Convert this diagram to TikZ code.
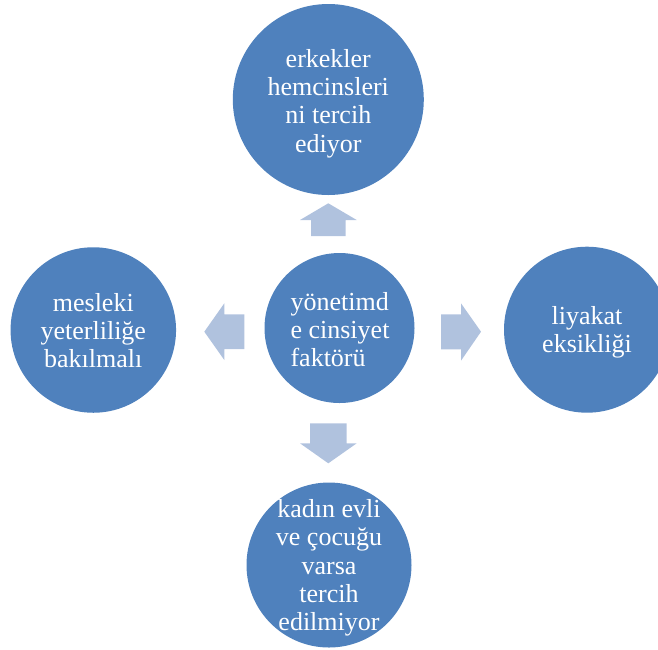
\documentclass[tikz,border=0pt]{standalone}
\usepackage{fontspec}
\setmainfont{Liberation Serif}
\definecolor{circfill}{HTML}{4F81BD}
\definecolor{arrfill}{RGB}{176,194,222}
\begin{document}
\begin{tikzpicture}[x=1pt,y=-1pt,
  bubble/.style={circle,fill=circfill,draw=none,inner sep=0pt},
  txt/.style={text=white,inner sep=0pt,font=\fontsize{26}{28.3}\selectfont},
  blockarrow/.style={fill=arrfill,draw=none}]
\useasboundingbox (0,0) rectangle (658,649);
\clip (0,0) rectangle (658,649);
% circles
\node[bubble,minimum size=191pt] (top) at (328.3,99.5) {};
\node[bubble,minimum size=150pt] (mid) at (339.5,328) {};
\node[bubble,minimum size=165.5pt] (left) at (93.3,330) {};
\node[bubble,minimum size=166pt] (right) at (587,329.7) {};
\node[bubble,minimum size=165pt] (bottom) at (329,565) {};
% texts
\node[txt,align=center] (toptxt) at (328.3,103.5) {erkekler\\hemcinsleri\\ni tercih\\ediyor};
\node[txt,align=left] (midtxt) at (340,329.5) {yönetimd\\e cinsiyet\\faktörü};
\node[txt,align=center] (lefttxt) at (93.3,330.5) {mesleki\\yeterliliğe\\bakılmalı};
\node[txt,align=center] (righttxt) at (587,332.5) {liyakat\\eksikliği};
\node[txt,align=center] (bottomtxt) at (329,568) {kadın evli\\ve çocuğu\\varsa\\tercih\\edilmiyor};
% block arrows
\fill[blockarrow] (328.3,203.3) -- (356.7,220) -- (345.7,220) -- (345.7,236) -- (311,236) -- (311,220) -- (300,220) -- cycle;
\fill[blockarrow] (328.3,463.3) -- (356.7,443.3) -- (346.7,443.3) -- (346.7,423.3) -- (310,423.3) -- (310,443.3) -- (300,443.3) -- cycle;
\fill[blockarrow] (204.3,331.7) -- (224.3,303.3) -- (224.3,314.3) -- (244.3,314.3) -- (244.3,349) -- (224.3,349) -- (224.3,360) -- cycle;
\fill[blockarrow] (481,331.7) -- (461,303.3) -- (461,314.3) -- (441,314.3) -- (441,349.3) -- (461,349.3) -- (461,360.7) -- cycle;
\end{tikzpicture}
\end{document}
